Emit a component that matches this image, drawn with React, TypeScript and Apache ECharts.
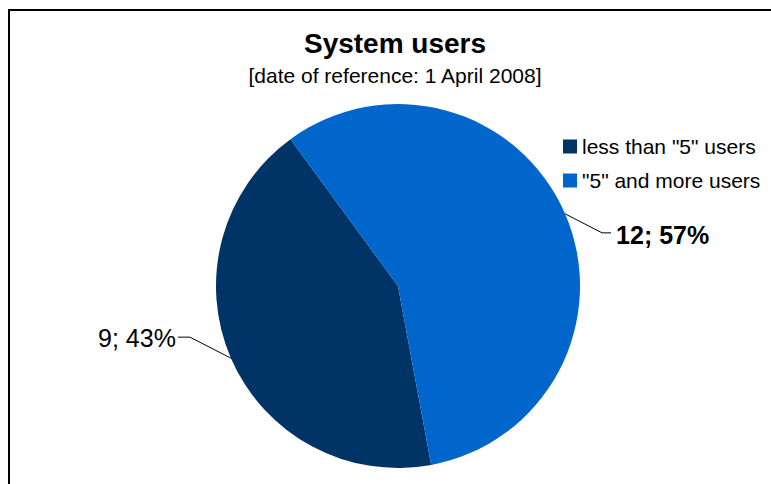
import React, { useEffect, useRef } from "react";
import * as echarts from "echarts";

const titleText = "System users";
const subtitleText = "[date of reference: 1 April 2008]";
const categories = ['less than "5" users', '"5" and more users'];
const values = [9, 12];
const colors = ["#003366", "#0066CC"];

export default function App() {
  const ref = useRef<HTMLDivElement>(null);
  useEffect(() => {
    if (!ref.current) return;
    const chart = echarts.init(ref.current, null, { renderer: "svg" });
    const total = values.reduce((a, b) => a + b, 0);
    const font = "Arial, 'Liberation Sans', sans-serif";
    chart.setOption({
      animation: false,
      backgroundColor: "#ffffff",
      textStyle: { fontFamily: font },
      title: {
        text: titleText,
        subtext: subtitleText,
        left: 390,
        top: 24,
        textAlign: "center",
        itemGap: 8,
        textStyle: { fontFamily: font, fontSize: 28, fontWeight: "bold", color: "#000" },
        subtextStyle: { fontFamily: font, fontSize: 21, color: "#000" },
      },
      legend: {
        orient: "vertical",
        left: 558,
        top: 131,
        itemWidth: 14,
        itemHeight: 14,
        itemGap: 13,
        icon: "rect",
        data: categories,
        textStyle: { fontFamily: font, fontSize: 21, color: "#000" },
      },
      graphic: [
        {
          type: "rect",
          shape: { x: 9, y: 10, width: 800, height: 520 },
          style: { fill: "none", stroke: "#000", lineWidth: 2 },
          silent: true,
        },
      ],
      series: [
        {
          type: "pie",
          center: [398, 286],
          radius: 182,
          startAngle: 280.5,
          clockwise: true,
          data: categories.map((name, i) => ({
            name,
            value: values[i],
            itemStyle: { color: colors[i] },
            label: {
              fontWeight: i === 1 ? "bold" : "normal",
            },
          })),
          itemStyle: { borderWidth: 0 },
          label: {
            show: true,
            position: "outside",
            fontFamily: font,
            fontSize: 25,
            color: "#000",
            formatter: (p: any) => `${p.value}; ${Math.round((p.value / total) * 100)}%`,
          },
          labelLine: {
            show: true,
            length: 20,
            length2: 8,
            lineStyle: { color: "#000", width: 1 },
          },
          labelLayout: (params: any) => {
            const pts = params.labelLinePoints;
            if (!pts) return {};
            const p0 = pts[0];
            if (params.dataIndex === 1) {
              const y = p0[1] + 19;
              return {
                x: p0[0] + 51,
                y: y + 2,
                align: "left",
                verticalAlign: "middle",
                labelLinePoints: [p0, [p0[0] + 37, y], [p0[0] + 46, y]],
              };
            } else {
              const y = p0[1] - 21;
              return {
                x: p0[0] - 55,
                y: y + 1,
                align: "right",
                verticalAlign: "middle",
                labelLinePoints: [p0, [p0[0] - 41, y], [p0[0] - 53, y]],
              };
            }
          },
        },
      ],
    });
    return () => chart.dispose();
  }, []);
  return (
    <div
      ref={ref}
      style={{ position: "fixed", left: 0, top: 0, width: 771, height: 484 }}
    />
  );
}
